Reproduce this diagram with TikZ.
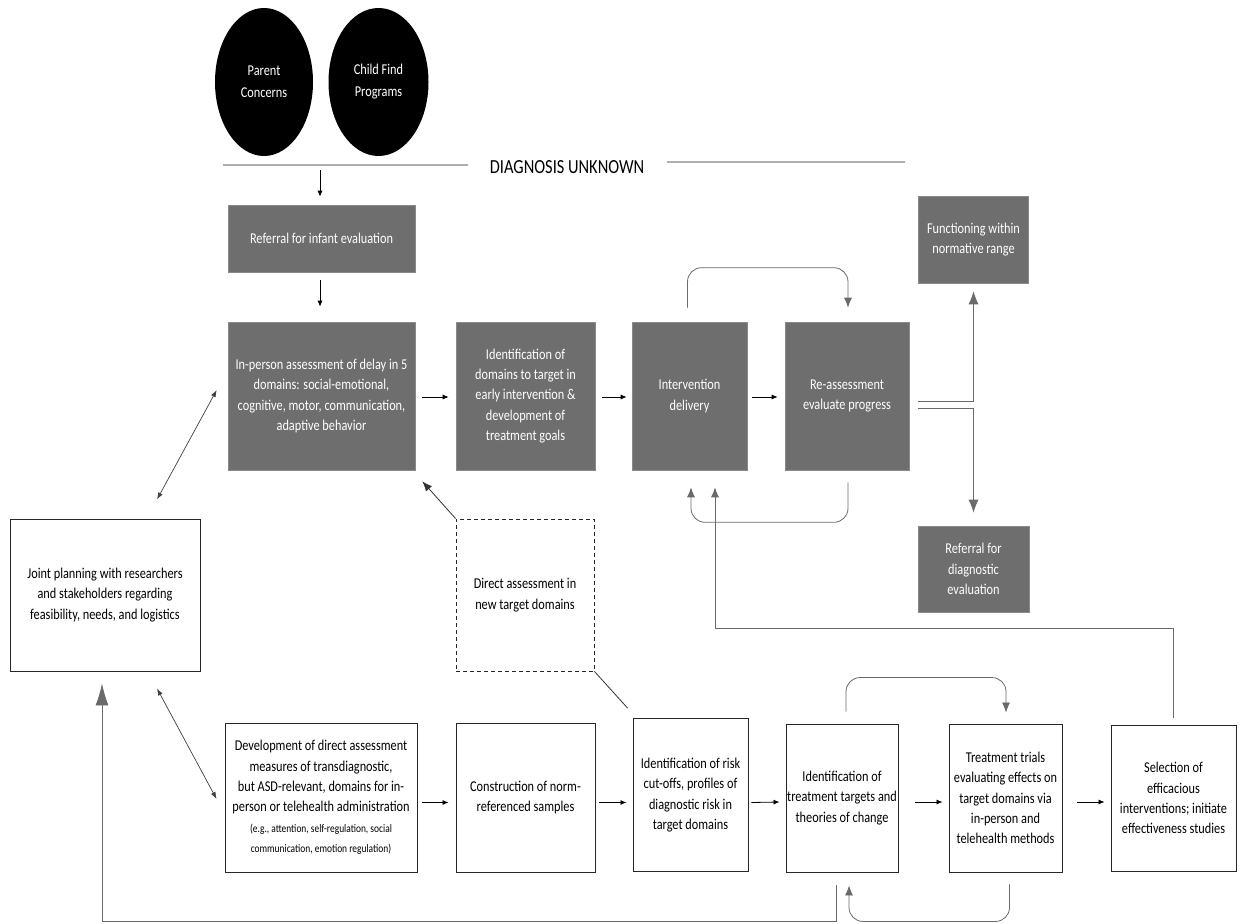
\documentclass[tikz,border=0pt]{standalone}
\usepackage{fontspec}
\setmainfont{Carlito}[FakeStretch=0.82]
\usetikzlibrary{shapes.geometric,arrows.meta,calc}
\definecolor{boxgray}{HTML}{6E6E6E}
\definecolor{boxedge}{HTML}{8A8A8A}
\definecolor{loopgray}{HTML}{6A6A6A}
\definecolor{dotgray}{HTML}{B0B0B0}
\newcommand{\mainfnt}{\fontsize{15pt}{20.3pt}\selectfont}
\newcommand{\smallfnt}{\fontsize{11.5pt}{14pt}\selectfont}
\begin{document}
\begin{tikzpicture}[x=1pt,y=-1pt,
  gbox/.style={fill=boxgray, draw=boxedge, line width=0.6pt, text=white, align=center, inner sep=0pt, font=\mainfnt},
  wbox/.style={fill=white, draw=black!85, line width=0.9pt, text=black, align=center, inner sep=0pt, font=\mainfnt},
  dbox/.style={wbox, dashed, dash pattern=on 4pt off 3pt},
  blob/.style={ellipse, fill=black, text=white, align=center, inner sep=0pt, font=\fontsize{15pt}{22pt}\selectfont},
  sarr/.style={-{Latex[length=6pt,width=5pt]}, line width=0.8pt, black},
  darr/.style={{Latex[length=7pt,width=5pt]}-{Latex[length=7pt,width=5pt]}, line width=0.7pt, black!75},
  marr/.style={-{Latex[length=10pt,width=8pt]}, line width=0.8pt, loopgray},
  barr/.style={-{Latex[length=13pt,width=10pt]}, line width=0.8pt, loopgray},
  gline/.style={line width=0.8pt, loopgray},
  dotline/.style={line width=1.4pt, dotgray, dash pattern=on 0.6pt off 0.4pt}
]
\useasboundingbox (0,0) rectangle (1241,923);

% top ellipses
\node[blob, minimum width=98pt, minimum height=148pt] (parent) at (264,82) {Parent\\Concerns};
\node[blob, minimum width=100pt, minimum height=148pt] (child) at (378.5,82) {Child Find\\Programs};

% diagnosis unknown
\node[font=\fontsize{20pt}{22pt}\selectfont, inner sep=0pt] (diag) at (567,167) {DIAGNOSIS UNKNOWN};
\coordinate (dl1) at (223,165);
\coordinate (dl2) at (468,165);
\coordinate (dr1) at (667,162);
\coordinate (dr2) at (905,162);
\draw[dotline] (dl1) -- (dl2);
\draw[dotline] (dr1) -- (dr2);
\coordinate (dstart) at (320,170);

% top row
\node[gbox, minimum width=187pt, minimum height=67pt] (ref1) at (321.5,238.5) {Referral for infant evaluation};
\node[gbox, minimum width=187pt, minimum height=148pt] (inperson) at (321.5,396) {In-person assessment of delay in 5\\domains: social-emotional,\\cognitive, motor, communication,\\adaptive behavior};
\node[gbox, minimum width=139pt, minimum height=148pt] (identdom) at (525.5,396) {Identification of\\domains to target in\\early intervention \&\\development of\\treatment goals};
\node[gbox, minimum width=115pt, minimum height=148pt] (interv) at (689.5,396) {Intervention\\delivery};
\node[gbox, minimum width=124pt, minimum height=148pt] (reass) at (847,396) {Re-assessment\\evaluate progress};
\node[gbox, minimum width=110pt, minimum height=87pt] (func) at (973.5,239.5) {Functioning within\\normative range};
\node[gbox, minimum width=111pt, minimum height=86pt] (refdiag) at (973.5,569) {Referral for\\diagnostic\\evaluation};

% middle
\node[wbox, minimum width=190pt, minimum height=152pt] (joint) at (105,595) {Joint planning with researchers\\and stakeholders regarding\\feasibility, needs, and logistics};
\node[dbox, minimum width=138pt, minimum height=152pt] (direct) at (525,595) {Direct assessment in\\new target domains};

% bottom row
\node[wbox, minimum width=192pt, minimum height=149pt] (dev) at (321,797.5) {Development of direct assessment\\measures of transdiagnostic,\\but ASD-relevant, domains for in-\\person or telehealth administration\\\smallfnt (e.g., attention, self-regulation, social\\\smallfnt communication, emotion regulation)};
\node[wbox, minimum width=139pt, minimum height=149pt] (constr) at (525.5,797.5) {Construction of norm-\\referenced samples};
\node[wbox, minimum width=115pt, minimum height=153pt] (risk) at (690.5,795) {Identification of risk\\cut-offs, profiles of\\diagnostic risk in\\target domains};
\node[wbox, minimum width=112pt, minimum height=148pt] (treat) at (842,798) {Identification of\\treatment targets and\\theories of change};
\node[wbox, minimum width=113pt, minimum height=148pt] (trials) at (1005.5,798) {Treatment trials\\evaluating effects on\\target domains via\\in-person and\\telehealth methods};
\node[wbox, minimum width=125pt, minimum height=146pt] (select) at (1173.5,798) {Selection of\\efficacious\\interventions; initiate\\effectiveness studies};

% vertical small arrows
\draw[sarr] (dstart) -- ($(ref1.north)+(-1.5,-8)$);
\draw[sarr] ($(ref1.south)+(-1.5,8)$) -- ($(inperson.north)+(-1.5,-15)$);

% top row horizontal arrows
\draw[sarr] ($(inperson.east)+(7,1)$) -- ($(identdom.west)+(-7,1)$);
\draw[sarr] ($(identdom.east)+(7,1)$) -- ($(interv.west)+(-5,1)$);
\draw[sarr] ($(interv.east)+(5,1)$) -- ($(reass.west)+(-7,1)$);

% loops around intervention / re-assessment
\draw[marr, rounded corners=14pt] ($(interv.north)+(-2,-14)$) -- ++(0,-40) -| ($(reass.north)+(1,-14)$);
\draw[marr, rounded corners=14pt] ($(reass.south)+(1,12)$) -- ++(0,40) -| ($(interv.south)+(1.5,17)$);
\draw[marr] ($(select.north)+(0,-7)$) |- ($(interv.south)+(25.5,158)$) -- ($(interv.south)+(25.5,17)$);

% re-assessment outcomes
\draw[barr] ($(reass.east)+(9,5)$) -| ($(func.south)+(0,8)$);
\draw[barr] ($(reass.east)+(9,12)$) -| ($(refdiag.north)+(0,-13)$);

% joint planning double arrows
\draw[darr] ($(inperson.west)+(-11,-6)$) -- ($(joint.north)+(52,-19)$);
\draw[darr] ($(joint.south)+(52,17)$) -- ($(dev.west)+(-8,1.5)$);

% direct assessment links
\draw[marr, black!80] (direct.north west) -- ($(inperson.south east)+(7,11)$);
\draw[gline, black!80] (direct.south east) -- ($(risk.north west)+(-5,-10)$);

% bottom row horizontal arrows
\draw[sarr] ($(dev.east)+(5,5)$) -- ($(constr.west)+(-7,5)$);
\draw[sarr] ($(constr.east)+(4,5)$) -- ($(risk.west)+(-6,7.5)$);
\draw[sarr] ($(risk.east)+(3,7.5)$) -- ($(treat.west)+(-6,4)$);
\draw[sarr] ($(treat.east)+(17,4)$) -- ($(trials.west)+(-6,4)$);
\draw[sarr] ($(trials.east)+(15,4)$) -- ($(select.west)+(-6,4)$);

% bottom loops
\draw[marr, rounded corners=14pt] ($(treat.north)+(4,-12)$) -- ++(0,-34) -| ($(trials.north)+(0.5,-11)$);
\draw[marr, rounded corners=14pt] ($(trials.south)+(4,12)$) -- ++(0,37) -| ($(treat.south)+(7,13)$);
\draw[-{Latex[length=22pt,width=13pt]}, gline] ($(treat.south)+(-6,13)$) -- ++(0,36) -| ($(joint.south)+(-3,12)$);
\end{tikzpicture}
\end{document}
